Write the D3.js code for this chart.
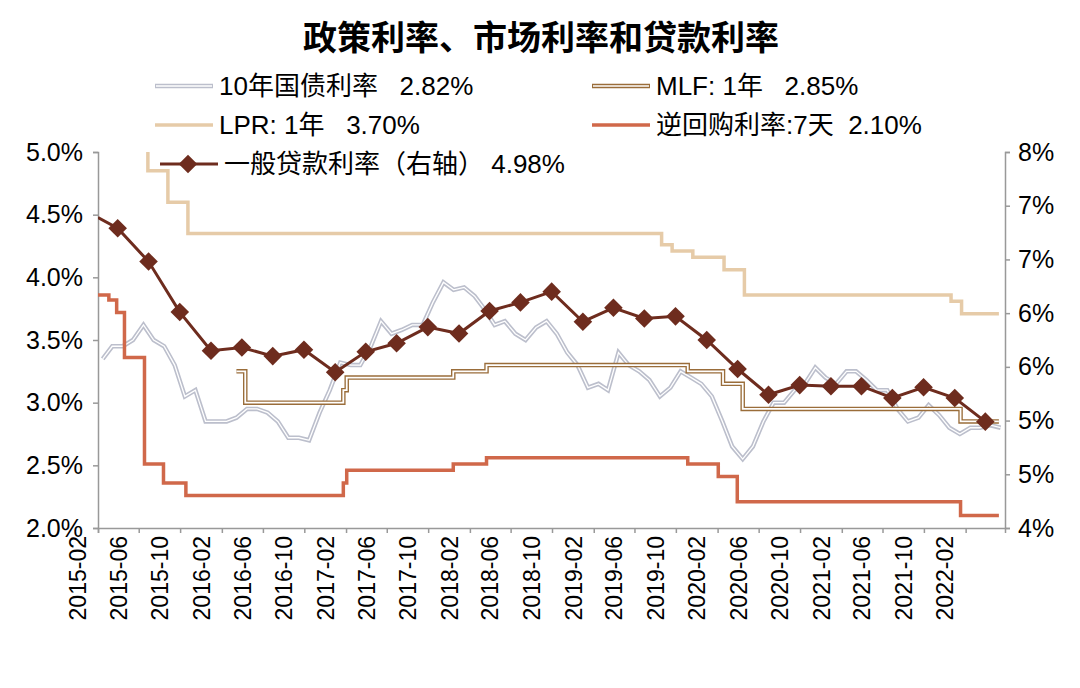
<!DOCTYPE html>
<html><head><meta charset="utf-8">
<script src="https://cdn.jsdelivr.net/npm/d3@7"></script>
<style>body{margin:0;background:#fff}svg{font-family:"Liberation Sans","Noto Sans CJK SC",Arial,sans-serif}</style>
</head><body><svg id="c" width="1080" height="688"></svg>
<script>
"use strict";
// 10年国债 monthly
const bondValues = [3.35,3.45,3.45,3.5,3.62,3.5,3.45,3.3,3.05,3.1,2.85,
  2.85,2.85,2.88,2.95,2.95,2.92,2.85,2.72,2.72,2.7,2.92,3.1,
  3.32,3.3,3.3,3.45,3.65,3.55,3.58,3.62,3.62,3.8,3.96,3.9,
  3.92,3.85,3.75,3.62,3.65,3.55,3.5,3.6,3.65,3.55,3.4,3.3,
  3.12,3.15,3.1,3.4,3.3,3.25,3.18,3.05,3.12,3.25,3.2,3.15,
  3.05,2.85,2.65,2.55,2.65,2.85,3.0,3.0,3.1,3.15,3.28,3.2,
  3.15,3.25,3.25,3.18,3.1,3.1,2.95,2.85,2.88,2.98,2.9,2.8,
  2.75,2.8,2.8,2.82,2.8];
const mlfDates = ["2016-03-15","2016-04-10","2017-01-24","2017-02-03","2017-12-14","2018-03-22","2019-11-05","2020-02-17","2020-04-15","2022-01-17","2022-05-10"];
const mlfValues = [3.25,3.00,3.10,3.20,3.25,3.30,3.25,3.15,2.95,2.85,2.85];
const lprDates = ["2015-06-20","2015-06-28","2015-08-26","2015-10-24","2019-08-20","2019-09-20","2019-11-20","2020-02-20","2020-04-20","2021-12-20","2022-01-20","2022-05-10"];
const lprValues = [5.10,4.85,4.60,4.35,4.26,4.21,4.16,4.06,3.86,3.81,3.71,3.71];
const repoDates = ["2015-02-01","2015-03-05","2015-03-28","2015-04-20","2015-06-18","2015-08-13","2015-10-18","2017-01-24","2017-02-03","2017-12-14","2018-03-22","2019-11-05","2020-02-03","2020-03-30","2022-01-17","2022-05-10"];
const repoValues = [3.86,3.82,3.72,3.36,2.51,2.36,2.26,2.36,2.46,2.51,2.56,2.51,2.41,2.21,2.10,2.10];
const loanDates = ["2015-02-01","2015-03-31","2015-06-30","2015-09-30","2015-12-31","2016-03-31","2016-06-30","2016-09-30","2016-12-31","2017-03-31","2017-06-30","2017-09-30","2017-12-31","2018-03-31","2018-06-30","2018-09-30","2018-12-31","2019-03-31","2019-06-30","2019-09-30","2019-12-31","2020-03-31","2020-06-30","2020-09-30","2020-12-31","2021-03-31","2021-06-30","2021-09-30","2021-12-31","2022-03-31"];
const loanValues = [6.89,6.79,6.48,6.01,5.65,5.68,5.60,5.66,5.45,5.64,5.72,5.87,5.81,6.02,6.10,6.20,5.92,6.05,5.95,5.97,5.75,5.48,5.24,5.33,5.32,5.32,5.21,5.31,5.21,4.99];
const xTicks = d3.range(0, 85, 4).map(m => d3.timeMonth.offset(new Date(2015, 1, 1), m));

const parse = d3.timeParse("%Y-%m-%d");
const svg = d3.select("#c");
const L = 98, R = 1005, T = 152, B = 528;
const x = d3.scaleTime().domain([new Date(2015, 1, 1), new Date(2022, 4, 28)]).range([L, R]);
const yL = d3.scaleLinear().domain([2, 5]).range([B, T]);
const yR = d3.scaleLinear().domain([4, 7.5]).range([B, T]);

svg.append("defs").append("clipPath").attr("id", "clip")
  .append("rect").attr("x", L).attr("y", T).attr("width", R - L).attr("height", B - T);

svg.append("text").attr("x", 541).attr("y", 50).attr("text-anchor", "middle")
  .attr("font-size", 34).attr("font-weight", "bold").text("政策利率、市场利率和贷款利率");

const axisStyle = g => {
  g.selectAll("path,line").attr("stroke", "#999").attr("stroke-width", 1.5);
  g.selectAll("text").attr("font-size", 25).attr("fill", "#000");
};
svg.append("g").attr("transform", `translate(${L},0)`)
  .call(d3.axisLeft(yL).tickValues(d3.range(2, 5.01, 0.5)).tickFormat(d => d.toFixed(1) + "%").tickSize(5).tickPadding(10))
  .call(axisStyle);
svg.append("g").attr("transform", `translate(${R},0)`)
  .call(d3.axisRight(yR).tickValues(d3.range(4, 7.51, 0.5)).tickFormat(d => Math.round(d) + "%").tickSize(5).tickPadding(8))
  .call(axisStyle);
svg.append("g").attr("transform", `translate(0,${B})`)
  .call(d3.axisBottom(x).tickValues(xTicks).tickFormat(d3.timeFormat("%Y-%m")).tickSize(5))
  .call(axisStyle)
  .selectAll("text").attr("font-size", 23).attr("transform", "rotate(-90)")
  .attr("text-anchor", "end").attr("dx", "-8").attr("dy", "-0.55em").attr("x", 0).attr("y", 0);

const plot = svg.append("g").attr("clip-path", "url(#clip)");
const step = (dates, vals, y) => d3.line().curve(d3.curveStepAfter)
  .x((d, i) => x(parse(dates[i]))).y(d => y(d))(vals);

const bondDates = bondValues.map((v, i) => d3.timeMonth.offset(new Date(2015, 1, 15), i));
const bondPath = d3.line().x((d, i) => x(bondDates[i])).y(d => yL(d))(bondValues);

const LOAN = "#6e2c1e", LPR = "#e6cba8", REPO = "#d0684a", MLF = "#9a6d3a", BOND = "#bcbfcc";

plot.append("path").attr("d", bondPath).attr("fill", "none").attr("stroke", BOND).attr("stroke-width", 4.5);
plot.append("path").attr("d", bondPath).attr("fill", "none").attr("stroke", "#fff").attr("stroke-width", 1.3);
plot.append("path").attr("d", step(lprDates, lprValues, yL)).attr("fill", "none").attr("stroke", LPR).attr("stroke-width", 3.5);
plot.append("path").attr("d", step(repoDates, repoValues, yL)).attr("fill", "none").attr("stroke", REPO).attr("stroke-width", 3.5);
const mlfPath = step(mlfDates, mlfValues, yL);
plot.append("path").attr("d", mlfPath).attr("fill", "none").attr("stroke", MLF).attr("stroke-width", 4.5);
plot.append("path").attr("d", mlfPath).attr("fill", "none").attr("stroke", "#fff").attr("stroke-width", 1.8);

const loanLine = d3.line().x((d, i) => x(parse(loanDates[i]))).y(d => yR(d));
plot.append("path").attr("d", loanLine(loanValues)).attr("fill", "none").attr("stroke", LOAN).attr("stroke-width", 3);
const diamond = d3.symbol().type(d3.symbolDiamond2).size(220);
svg.append("g").selectAll("path").data(loanValues.slice(1)).join("path")
  .attr("d", diamond).attr("fill", LOAN)
  .attr("transform", (d, i) => `translate(${x(parse(loanDates[i + 1]))},${yR(d)})`);

// legend
const leg = svg.append("g").attr("font-size", 26);
const items = [
  {x: 155, y: 86, t: "10年国债利率   2.82%", c: BOND, dbl: true, w: 4.5},
  {x: 592, y: 86, t: "MLF: 1年   2.85%", c: MLF, dbl: true, w: 4.5},
  {x: 155, y: 125, t: "LPR: 1年   3.70%", c: LPR, w: 3.5},
  {x: 592, y: 125, t: "逆回购利率:7天  2.10%", c: REPO, w: 3.5},
  {x: 160, y: 164, t: "一般贷款利率（右轴） 4.98%", c: LOAN, w: 3, mark: true}
];
items.forEach(it => {
  leg.append("line").attr("x1", it.x).attr("x2", it.x + 58).attr("y1", it.y).attr("y2", it.y)
    .attr("stroke", it.c).attr("stroke-width", it.w);
  if (it.dbl) leg.append("line").attr("x1", it.x + 1).attr("x2", it.x + 57).attr("y1", it.y).attr("y2", it.y)
    .attr("stroke", "#fff").attr("stroke-width", 1.5);
  if (it.mark) leg.append("path").attr("d", diamond).attr("fill", it.c).attr("transform", `translate(${it.x + 28},${it.y})`);
  leg.append("text").attr("x", it.x + 64).attr("y", it.y + 9).text(it.t).style("white-space", "pre");
});
</script></body></html>
